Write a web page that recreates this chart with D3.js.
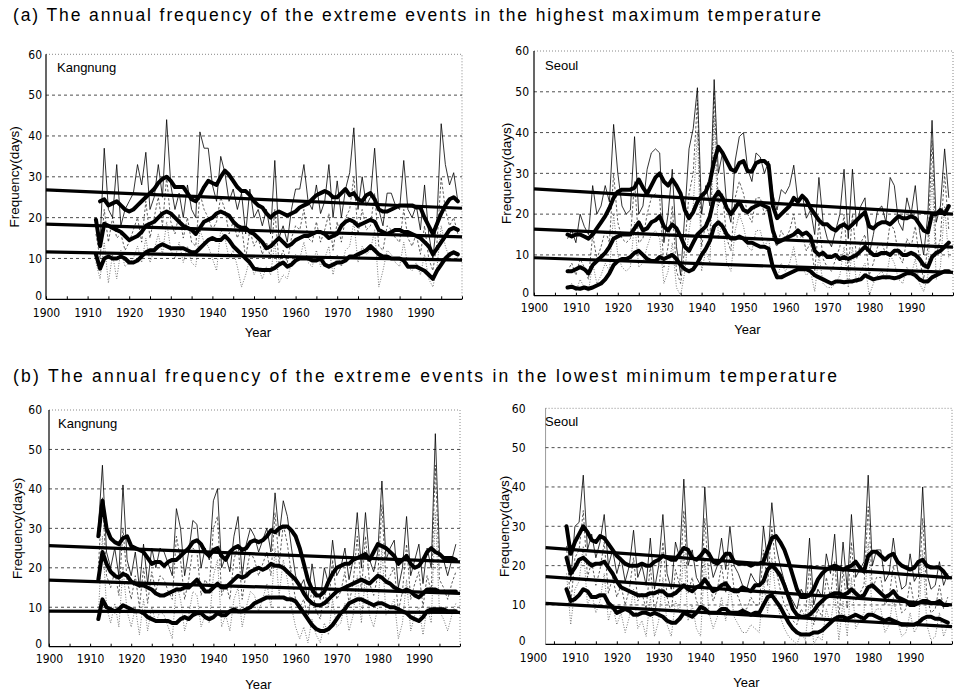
<!DOCTYPE html>
<html>
<head>
<meta charset="utf-8">
<script src="https://cdn.jsdelivr.net/npm/d3@7"></script>
<style>
  body { margin: 0; background: #fff; }
  svg { display: block; }
  text { font-family: "Liberation Sans", Arial, sans-serif; fill: #000; }
  .tick text { font-family: "Liberation Sans Narrow", "DejaVu Sans Condensed", sans-serif; font-size: 12px; }
</style>
</head>
<body>
<div id="chart"></div>
<script>
// ---------- Data ----------
const titleA = '(a) The annual frequency of the extreme events in the highest maximum temperature'
const titleB = '(b) The annual frequency of the extreme events in the lowest minimum temperature'
const yTicks = [0, 10, 20, 30, 40, 50, 60]
const gridValues = [10, 20, 30, 40, 50]
const xTicks = [1900, 1905, 1910, 1915, 1920, 1925, 1930, 1935, 1940, 1945, 1950,
  1955, 1960, 1965, 1970, 1975, 1980, 1985, 1990, 1995, 2000]
const xLabelYears = [1900, 1910, 1920, 1930, 1940, 1950, 1960, 1970, 1980, 1990]

// (a) Kangnung, annual from 1912
const KA_thin = [20,14,37,22,20,33,18,22,24,26, 33,28,36,22,25,33,25,44,28,22,
  26,20,28,22,20,41,37,37,28,24, 35,31,24,27,22,26,16,27,20,22,
  18,22,16,34,15,18,14,22,27,27, 33,24,22,28,21,24,33,20,29,20,
  27,31,42,22,30,23,25,37,22,18, 26,26,23,22,34,22,20,23,17,28,
  16,10,20,43,33,28,31,24]
const KA_dash = [16,10,22,14,20,15,16,12,14,17, 20,14,24,15,20,25,18,30,19,16,
  21,15,20,14,13,26,22,20,17,19, 25,22,16,19,15,18,10,17,13,15,
  11,14,10,22,9,12,9,15,18,17, 22,15,14,19,14,17,21,12,19,14,
  20,22,30,16,22,17,18,26,13,12, 18,17,15,14,22,15,13,16,11,18,
  10,7,14,30,22,18,20,16]
const KA_dot = [9,5,14,4,11,5,12,8,9,10, 13,9,15,9,12,16,11,19,12,10,
  14,9,13,9,8,17,14,13,10,7, 17,15,10,12,8,3,6,10,6,8,
  5,8,6,14,4,6,5,9,11,10, 14,9,8,12,8,10,13,6,11,8,
  12,13,19,9,13,11,12,17,3,7, 12,11,9,8,14,8,7,9,6,11,
  5,3,8,18,13,10,12,10]
const KA_up = [null,24,24.5,23,23.5,24,23,22,21.5,22, 23,24,25,26,27,28.5,29.5,30,29,27.5,
  27.5,27.5,26,24.5,24,25.5,27.5,29,28.5,28, 30,31.5,30.5,29,27.5,26.5,26.5,25.5,24,23,
  22.5,21,20,21,21.5,21,20.5,21,21.5,22.5, 23,23.5,24.5,25.5,26,26.5,26,25,25,26,
  27,25.5,26,24.5,24,25.5,26,24.5,22,21.5, 21.5,22,22.5,23,23,23,23,22.5,22.5,20,
  18,16,18.5,21,23,24.5,25,24]
const KA_mid = [19.5,13,18.5,18,17.5,17,16.5,15.5,14.5,15, 15.5,16.5,18,18.5,19,20,21,21.5,21,20,
  19,18,17.5,17,16,17.5,19,19.5,20,21, 21.5,21,20.5,19,18,17.5,17.5,16.5,16,15,
  14,12.5,13,14,15,14,13,13.5,14.5,15, 15.5,15.5,16,16.5,16.5,16,15,15.5,16,18,
  19,19.5,19,18,18.5,19,19.5,19,17,16.5, 16,16.5,17,17,16.5,16.5,16,15.5,15,14,
  13,11,12.5,14,15.5,17,17.5,17]
const KA_low = [11,7.5,10,10.5,10,10,10.5,10,9,9, 9.5,10.5,11.5,12,12,13,13.5,13,12.5,12.5,
  12.5,12.5,12,11.5,11.5,12.5,13.5,14.5,15,14.5, 14.5,15.5,14.5,13,12,11,10,9,7.5,7.3,
  7.2,7.2,7.2,7.7,8.5,9,8,8.5,9.5,10, 10,10,9.5,9.5,10,8.5,8,8.5,9,9,
  9.5,10.5,10.5,11,11.5,12,13,12,11,10.5, 10.5,10,10,10,9.5,8,8,8,7.5,7,
  6,5,7,8.5,10,11,11.5,11]
const KA_trend = [[[1900, 26.8], [2000, 22.3]], [[1900, 18.4], [2000, 15.3]], [[1900, 11.6], [2000, 9.6]]]

// (a) Seoul, annual from 1908
const SA_thin = [14,16,13,20,17,15,27,20,22,27, 23,42,30,22,20,21,39,20,22,31,
  35,36,35,13,20,31,12,5,20,36, 41,51,20,27,22,53,30,35,22,18,
  33,39,40,31,28,35,34,30,33,25, 21,26,25,27,32,23,25,19,21,15,
  29,18,14,12,16,20,31,14,31,17, 22,24,10,15,21,22,18,29,27,18,
  16,24,20,27,16,10,20,43,18,22, 36,24]
const SA_dash = [6,8,5,9,7,4,15,9,12,16, 13,30,18,14,13,14,28,13,14,20,
  24,25,24,7,12,22,6,3,12,25, 30,48,12,18,14,50,22,25,14,11,
  24,28,25,20,18,24,24,20,22,14, 12,16,14,16,20,13,15,11,13,6,
  18,9,7,6,9,12,20,6,20,9, 13,15,5,8,12,13,10,18,16,10,
  8,14,12,17,9,4,12,38,10,14, 30,16]
const SA_dot = [2,3,1,4,2,1,8,3,5,8, 6,20,10,7,6,7,18,7,8,12,
  15,16,14,3,6,13,2,0,6,16, 22,40,6,11,8,44,14,18,8,6,
  16,20,17,12,11,16,16,12,14,7, 4,8,6,8,12,6,7,5,6,1,
  10,3,2,2,3,5,12,2,12,3, 6,8,0,3,5,6,4,10,8,4,
  3,7,5,9,3,1,5,30,4,7, 22,9]
const SA_up = [15,14.5,15,15,14.5,14,15,16.5,18,19.5, 21.5,24,25.5,26,26,26,26.5,28.5,26.5,25,
  27,29,30,28,27,28.5,27,25,21,19, 20.5,23,24.5,25.5,28,33,36.5,35,33,31,
  30.5,32.5,33,30.5,30.5,32.5,33,33,32,22, 19,20,21,22,24,23,24.5,23.5,21.5,20,
  18.5,17.5,17.5,16.5,16,17,17.5,16.5,17.5,18.5, 19.5,20.5,17,16.5,17.5,18,18,17.5,18.5,19.5,
  19,19,19.5,19,17.5,16,15.5,20,20,21, 20,22]
const SA_mid = [6,6,6.5,7,6.5,5.5,7.5,8.5,9.5,10.5, 12,14,14.5,15,15,15,16.5,18,16,16.5,
  18,18.5,19.5,17,16,17.5,16.5,14.5,12,11, 13,15,16,17,19.5,24,25.5,24,21.5,20,
  21.5,23,21,20.5,21.5,22,22.5,22,21.5,16, 13,13.5,14,14.5,15,16,15,15.5,14.5,11,
  10,10.5,9.5,9.5,10,9,9.5,9,9.5,10, 11,12,11,10,10,10.5,10.5,10,11,11,
  10,10,10.5,10,9,7.5,7,9.5,10.5,11, 12,13]
const SA_low = [2,2.2,1.8,1.7,2,1.7,2,2.5,3,4, 5.5,7.5,8.5,9,9,9.5,10.5,11,10,9,
  8.5,8.5,9.5,9,9.5,10,9,7.5,6.5,6, 6.5,8,10,11.5,13.5,17,18,17,15,14,
  14,14.5,14,13,13,12.5,12,12,11.5,7, 4.5,4.5,5,5.5,6,6.5,6.5,6.5,6,5,
  4.5,4,3.5,3,3.5,3.5,3.3,3.5,3.5,3.8, 4,5,4.5,4,4.3,4.5,4.5,4.5,4.3,4.5,
  5,5.5,5.5,5,4,3.5,3.5,4.5,5,5.5, 6,6]
const SA_trend = [[[1900, 26.2], [2000, 20.0]], [[1900, 16.3], [2000, 11.9]], [[1900, 9.3], [2000, 5.7]]]

// (b) Kangnung, annual from 1912
const KB_thin = [30,46,24,20,25,18,41,22,18,24, 15,26,16,25,20,25,24,21,18,35,
  30,18,24,32,31,20,25,22,37,40, 20,23,19,28,33,18,26,30,28,24,
  27,30,24,39,28,37,33,25,18,15, 17,12,21,14,12,20,16,27,18,20,
  25,17,22,34,20,34,22,19,24,42, 22,25,27,15,20,33,18,22,26,16,
  25,20,54,24,22,18,22,26]
const KB_dash = [20,38,18,15,19,13,30,17,12,18, 10,20,11,19,14,18,17,14,12,28,
  22,12,17,25,24,13,17,15,30,33, 13,16,12,22,26,12,19,24,22,18,
  21,24,18,34,21,31,26,18,12,10, 12,7,15,9,7,14,10,22,12,14,
  19,11,16,28,14,28,16,13,18,36, 16,18,20,9,14,26,12,16,19,10,
  18,14,46,17,15,12,16,19]
const KB_dot = [8,28,10,6,11,5,20,9,5,10, 3,12,4,10,6,9,8,5,2,16,
  12,4,8,14,13,5,8,6,18,22, 5,8,4,12,15,5,10,14,13,9,
  12,16,10,25,13,22,17,10,5,2, 5,1,7,3,1,6,3,12,5,6,
  11,4,8,18,6,18,8,5,10,25, 8,10,12,2,6,17,4,8,10,3,
  10,6,34,9,7,4,8,11]
const KB_up = [28,37,30,27.5,26.5,26,27.5,28,25.5,25, 24.5,24,22.5,21,21.5,21.5,20.5,21.5,22,22,
  23,24,25,26.5,27,26,24,23,24.5,25, 23,22,24,25,25.5,24.5,25,26.5,27,26.5,
  27,28,29.5,29,30,30.5,30.5,29.5,28,25, 21,17,14.5,13,13,14,16.5,18.5,20,20.5,
  21,21,22,22.5,23,23.5,22,24,26,25.5, 25,24,23,21,22,23,21,20,20.5,22,
  24,25,24,23.5,22.5,22.5,22.5,22]
const KB_mid = [17,24,21,19,18,17.5,18.5,18,16.5,16, 15.5,15.5,15,14.5,13.5,13,13,13.5,14,14.5,
  14.5,15,15,16,17,15.5,14,14,15,16, 15,15,16,17,18,17.5,18,19,19.5,20,
  19.5,20,21,20.5,20.5,20,19,18,17,15.5, 13.5,12,11,10.5,10.5,11,12,13,14,14.5,
  15,15.5,16,16.5,17,16.5,16,17,18,17.5, 16.5,16,15,14.5,14,14.5,14,13,12.5,13.5,
  14.5,14.5,14.5,14,14,14,14,14]
const KB_low = [7,12,10,9.5,9,9.5,10.5,10,9.5,9, 9,8.5,7.5,7,6.5,6.5,6.5,6.5,6,6,
  7,7.5,7,8,8.5,8.5,7.5,7,7.5,8.5, 8,8,9,9.5,9,9,9.5,10,11,11.5,
  12,12.5,12.5,12.5,12.5,12.5,12,12,11.5,10, 8.5,7,5.5,4.5,4,4,4.5,5.5,7,8.5,
  9.5,11,11.5,12,12,11.5,11,10.5,11,11, 10.5,10,10,9.5,9,8.5,7.5,7,6.5,7.5,
  9,9.5,9.5,9.5,9.5,9,9,9]
const KB_trend = [[[1900, 25.6], [2000, 21.5]], [[1900, 16.9], [2000, 13.5]], [[1900, 9.0], [2000, 8.7]]]

// (b) Seoul, annual from 1908
const SB_thin = [30,16,30,31,43,24,28,22,26,33, 20,24,18,22,16,20,29,17,20,15,
  27,14,20,33,18,14,26,22,42,20, 24,17,15,40,23,17,20,27,19,30,
  20,18,15,14,18,16,15,30,21,36, 25,20,16,13,11,9,14,12,27,10,
  14,12,23,18,28,12,26,14,33,17, 19,21,43,20,24,24,16,18,27,19,
  14,15,23,16,18,40,18,14,15,21, 15,18]
const SB_dash = [25,10,22,24,34,17,21,15,19,26, 13,17,12,15,10,14,22,11,13,9,
  20,8,13,26,12,8,19,15,34,13, 17,11,9,32,16,11,14,20,13,23,
  14,12,9,9,12,10,10,24,15,30, 19,14,10,8,6,5,9,7,20,5,
  9,7,17,12,21,7,19,9,26,11, 13,15,35,14,17,17,10,12,20,13,
  8,9,16,10,12,32,12,8,9,15, 9,12]
const SB_dot = [18,5,14,16,25,10,13,8,11,18, 6,10,5,8,3,7,14,4,6,2,
  12,2,6,17,5,2,11,8,24,6, 10,4,2,22,8,4,7,12,6,15,
  7,5,3,3,5,4,3,16,8,22, 12,7,4,2,1,0,3,1,12,0,
  2,1,9,5,13,1,11,2,17,4, 6,8,26,7,9,9,3,5,12,6,
  2,3,8,3,5,24,5,1,2,8, 2,5]
const SB_up = [30,23,26,28,30,28.5,26.5,26,27.5,27, 25.5,24,22.5,21.5,20.5,20,20,20,20.5,20,
  20,21,21.5,22.5,22,21.5,21.5,23,24.5,24, 22,21.5,22.5,24,23,21,20.5,21.5,23,23,
  21,20.5,20.5,20.5,20,20.5,20.5,21,24,27, 27.5,26,24,21,17.5,14,12,12,12.5,14,
  16.5,18,19,19.5,20,19.5,19,19.5,20,21, 19.5,18.5,22.5,23.5,23.5,22.5,21.5,22.5,23,21,
  20,19.5,19,19.5,21,21.5,20,19.5,19.5,19.5, 18.5,17]
const SB_mid = [22,18,19.5,21.5,22,21,20,20.5,20.5,21, 19.5,18,16,14.5,14,13.5,13,12.5,12.5,12.5,
  13,13,13.5,13.5,12.5,12.5,13,14,15,14, 13.5,14.5,15,16.5,15,13.5,14,15,15.5,14,
  13.5,13.5,14.5,14,13.5,15,15,16,19,20, 19,17.5,15,12,9,7.5,7,7,7.5,8.5,
  10,11,12,12.5,13,13,12.5,13,14,13, 12,12.5,14.5,15,14,13,12,12.5,13.5,12,
  11.5,11,10,10,10.5,11,11,10.5,10.5,11, 10,10]
const SB_low = [14,11,11.5,12.5,14,13.5,12,12,12.5,12.5, 10.5,9.5,8,8.5,9,8.5,7.5,7.5,8,8,
  7.5,8,7.5,7,6,5.5,5.5,6.5,8,7.5, 7,8,9.5,9,8,8,8,9,9,8,
  8,8,8.5,8,7.5,8,8,10,12,12.5, 11,9.5,7.5,5.5,4,3,2.5,2.5,2.5,3,
  3,3.5,4.5,5.5,6.5,7,7,6.5,7,7.5, 7,6.5,7.5,7.5,7,6.5,6,6.5,6,5.5,
  5,5,5,5,5.5,6.5,7,7,6.5,6.5, 6,5.5]
const SB_trend = [[[1903, 24.6], [2000, 16.9]], [[1903, 17.2], [2000, 10.0]], [[1903, 10.4], [2000, 4.5]]]

// ---------- Layout ----------
const panels = [
  { name: 'Kangnung', start: 1912, thin: KA_thin, dash: KA_dash, dot: KA_dot,
    smooth: [KA_up, KA_mid, KA_low], trend: KA_trend,
    xr: [46, 462], yr: [299.3, 54.3], frameStart: 1900,
    nameX: 57, nameY: 72, yearY: 337, yLabX: 14, xPad: 9.5, yPad: 4 },
  { name: 'Seoul', start: 1908, thin: SA_thin, dash: SA_dash, dot: SA_dot,
    smooth: [SA_up, SA_mid, SA_low], trend: SA_trend,
    xr: [534, 953], yr: [295.7, 51], frameStart: 1900,
    nameX: 545, nameY: 70, yearY: 334, yLabX: 506, xPad: 7.5, yPad: 5 },
  { name: 'Kangnung', start: 1912, thin: KB_thin, dash: KB_dash, dot: KB_dot,
    smooth: [KB_up, KB_mid, KB_low], trend: KB_trend,
    xr: [49, 460], yr: [646.7, 410], frameStart: 1900,
    nameX: 58, nameY: 428, yearY: 689, yLabX: 17, xPad: 8, yPad: 7 },
  { name: 'Seoul', start: 1908, thin: SB_thin, dash: SB_dash, dot: SB_dot,
    smooth: [SB_up, SB_mid, SB_low], trend: SB_trend,
    xr: [533, 952], yr: [644.3, 408.3], frameStart: 1903,
    nameX: 545, nameY: 426, yearY: 687, yLabX: 504, xPad: 9, yPad: 20 }
]

const svg = d3.select('#chart')
  .append('svg')
  .attr('width', 956)
  .attr('height', 691)

// Titles
svg.append('text').attr('x', 13).attr('y', 21)
  .attr('font-size', 17.5).attr('textLength', 808).attr('lengthAdjust', 'spacing')
  .text(titleA)
svg.append('text').attr('x', 13).attr('y', 382)
  .attr('font-size', 17.5).attr('textLength', 824).attr('lengthAdjust', 'spacing')
  .text(titleB)

function drawPanel(p) {
  const x = d3.scaleLinear().domain([1900, 2000]).range(p.xr)
  const y = d3.scaleLinear().domain([0, 60]).range(p.yr)
  const left = x(p.frameStart), right = x(2000)
  const g = svg.append('g')

  // frame (top / right dotted)
  g.append('path')
    .attr('d', `M${left},${y(60)}H${right}V${y(0)}`)
    .attr('fill', 'none').attr('stroke', '#888')
    .attr('stroke-width', 1).attr('stroke-dasharray', '1,2')

  // grid
  g.selectAll('line.grid')
    .data(gridValues)
    .join('line')
    .attr('class', 'grid')
    .attr('x1', left).attr('x2', right)
    .attr('y1', d => y(d)).attr('y2', d => y(d))
    .attr('stroke', '#222').attr('stroke-width', 0.8)
    .attr('stroke-dasharray', '3,3')

  // axes
  const xAxis = d3.axisBottom(x)
    .tickValues(xTicks)
    .tickFormat(d => xLabelYears.includes(d) ? d : '')
    .tickSizeInner(-3).tickSizeOuter(0).tickPadding(p.xPad)
  g.append('g')
    .attr('transform', `translate(0, ${y(0)})`)
    .call(xAxis)
    .call(a => a.select('.domain').remove())
    .call(a => a.selectAll('.tick line')
      .attr('stroke-width', 1)
      .attr('display', d => d < p.frameStart ? 'none' : null))

  const yAxis = d3.axisLeft(y)
    .tickValues(yTicks)
    .tickSizeInner(0).tickSizeOuter(0).tickPadding(p.yPad)
  g.append('g')
    .attr('transform', `translate(${left}, 0)`)
    .call(yAxis)
    .call(a => a.select('.domain').remove())
    .call(a => a.selectAll('.tick text').attr('dy', d => d === 0 ? '0.05em' : '0.32em'))

  g.append('line')
    .attr('x1', left).attr('x2', right)
    .attr('y1', y(0)).attr('y2', y(0))
    .attr('stroke', '#000').attr('stroke-width', 1.2)
  g.append('line')
    .attr('x1', left).attr('x2', left)
    .attr('y1', y(0)).attr('y2', y(60))
    .attr('stroke', '#000').attr('stroke-width', p.frameStart > 1900 ? 0.4 : 1.2)

  // axis titles
  g.append('text')
    .attr('x', (x(1900) + right) / 2 + 4).attr('y', p.yearY)
    .attr('text-anchor', 'middle').attr('font-size', 13)
    .text('Year')
  g.append('text')
    .attr('transform', `translate(${p.yLabX}, ${(y(0) + y(60)) / 2}) rotate(-90)`)
    .attr('text-anchor', 'middle').attr('dy', '0.35em').attr('font-size', 13.5)
    .text('Frequency(days)')
  g.append('text')
    .attr('x', p.nameX).attr('y', p.nameY).attr('font-size', 13)
    .text(p.name)

  // lines
  const line = d3.line()
    .defined(d => d[1] != null)
    .x(d => x(d[0]))
    .y(d => y(d[1]))
  const toPts = vals => vals.map((v, i) => [p.start + i, v])

  g.append('path').datum(toPts(p.dot)).attr('d', line)
    .attr('fill', 'none').attr('stroke', '#666').attr('stroke-width', 0.9)
    .attr('stroke-dasharray', '1,1.6')
  g.append('path').datum(toPts(p.dash)).attr('d', line)
    .attr('fill', 'none').attr('stroke', '#333').attr('stroke-width', 0.8)
    .attr('stroke-dasharray', '2.5,2')
  g.append('path').datum(toPts(p.thin)).attr('d', line)
    .attr('fill', 'none').attr('stroke', '#000').attr('stroke-width', 0.8)

  g.selectAll('path.trend')
    .data(p.trend)
    .join('path')
    .attr('class', 'trend')
    .attr('d', line)
    .attr('fill', 'none').attr('stroke', '#000').attr('stroke-width', 3.2)

  g.selectAll('path.smooth')
    .data(p.smooth.map(toPts))
    .join('path')
    .attr('class', 'smooth')
    .attr('d', line)
    .attr('fill', 'none').attr('stroke', '#000').attr('stroke-width', 4)
    .attr('stroke-linejoin', 'round').attr('stroke-linecap', 'round')
}

panels.forEach(drawPanel)
</script>
</body>
</html>
